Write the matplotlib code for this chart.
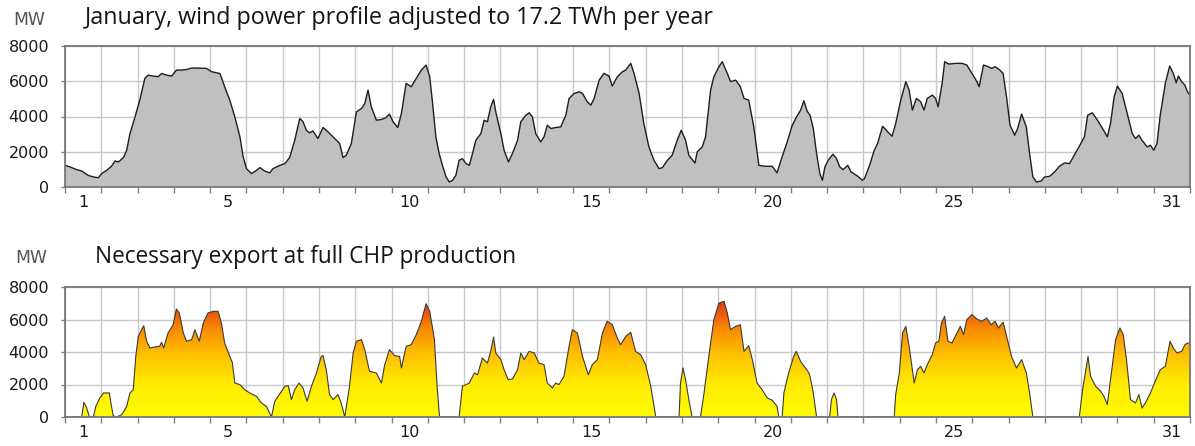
import numpy as np
import matplotlib
matplotlib.use("Agg")
import matplotlib.pyplot as plt
from matplotlib.colors import LinearSegmentedColormap

# ---------------- data ----------------
title_top = "January, wind power profile adjusted to 17.2 TWh per year"
title_bottom = "Necessary export at full CHP production"
unit_label = "MW"
label_days = [1, 5, 10, 15, 20, 25, 31]
y_ticks = [0, 2000, 4000, 6000, 8000]

wind_day = [0.00, 0.14, 0.32, 0.46, 0.64, 0.78, 0.92, 1.01, 1.15, 1.28, 1.38, 1.47, 1.61, 1.70, 1.79, 1.93,
            2.06, 2.20, 2.29, 2.43, 2.57, 2.66, 2.80, 2.94, 3.07, 3.21, 3.35, 3.49, 3.62, 3.90, 4.04, 4.27,
            4.40, 4.54, 4.68, 4.82, 4.91, 5.00, 5.14, 5.28, 5.37, 5.50, 5.64, 5.73, 5.92, 6.06, 6.19, 6.33,
            6.47, 6.56, 6.65, 6.74, 6.83, 6.97, 7.11, 7.20, 7.34, 7.48, 7.57, 7.66, 7.75, 7.89, 8.03, 8.17,
            8.26, 8.35, 8.44, 8.58, 8.72, 8.85, 8.94, 9.04, 9.17, 9.27, 9.40, 9.54, 9.68, 9.82, 9.95, 10.05,
            10.13, 10.22, 10.31, 10.40, 10.50, 10.59, 10.68, 10.77, 10.86, 10.95, 11.05, 11.14, 11.23, 11.32,
            11.46, 11.55, 11.64, 11.73, 11.81, 11.87, 12.01, 12.10, 12.22, 12.33, 12.47, 12.56, 12.70, 12.79,
            12.88, 12.97, 13.11, 13.20, 13.29, 13.39, 13.52, 13.66, 13.80, 13.89, 14.03, 14.17, 14.26, 14.39,
            14.49, 14.58, 14.72, 14.85, 14.99, 15.08, 15.22, 15.36, 15.45, 15.59, 15.68, 15.82, 15.95, 16.09,
            16.23, 16.37, 16.46, 16.60, 16.73, 16.87, 16.98, 17.10, 17.19, 17.36, 17.42, 17.56, 17.65, 17.79,
            17.88, 18.02, 18.11, 18.25, 18.34, 18.48, 18.61, 18.71, 18.84, 18.98, 19.12, 19.30, 19.49, 19.62,
            19.76, 19.90, 20.04, 20.17, 20.27, 20.36, 20.45, 20.53, 20.62, 20.71, 20.80, 20.87, 20.94, 21.03,
            21.16, 21.26, 21.35, 21.44, 21.57, 21.66, 21.76, 21.85, 21.97, 22.03, 22.17, 22.30, 22.39, 22.53,
            22.67, 22.79, 22.89, 23.03, 23.17, 23.26, 23.35, 23.46, 23.58, 23.67, 23.76, 23.90, 23.99, 24.06,
            24.17, 24.24, 24.35, 24.53, 24.72, 24.85, 24.99, 25.13, 25.19, 25.31, 25.44, 25.54, 25.63, 25.76,
            25.85, 25.95, 26.04, 26.17, 26.25, 26.36, 26.49, 26.58, 26.67, 26.77, 26.90, 26.99, 27.13, 27.27,
            27.40, 27.54, 27.68, 27.81, 27.95, 28.09, 28.18, 28.31, 28.45, 28.59, 28.72, 28.81, 28.91, 29.00,
            29.13, 29.27, 29.41, 29.50, 29.59, 29.68, 29.82, 29.91, 30.00, 30.09, 30.18, 30.32, 30.44, 30.54,
            30.62, 30.68, 30.77, 30.86, 30.93, 31.00]
wind_mw = [1230, 1140, 985, 910, 660, 570, 530, 760, 950, 1175, 1480, 1420, 1670, 2085, 3030, 3980,
           4930, 6160, 6350, 6290, 6260, 6440, 6350, 6290, 6635, 6635, 6670, 6750, 6750, 6730, 6540, 6440,
           5690, 4930, 3980, 2845, 1710, 1040, 760, 950, 1100, 910, 800, 1040, 1230, 1330, 1670, 2650,
           3890, 3700, 3220, 3070, 3185, 2750, 3375, 3220, 2940, 2650, 2465, 1670, 1800, 2465, 4265, 4455,
           4740, 5500, 4550, 3790, 3830, 3940, 4135, 3700, 3375, 4170, 5880, 5690, 6160, 6635, 6920, 6255,
           4740, 2845, 1900, 1230, 570, 285, 380, 660, 1515, 1610, 1330, 1230, 1900, 2650,
           3030, 3790, 3700, 4550, 4970, 4265, 3030, 2085, 1420, 1900, 2650, 3700, 4075, 4210,
           3980, 3030, 2560, 2845, 3505, 3320, 3375, 3410, 4075, 5025, 5310, 5400, 5310, 4835,
           4645, 5025, 6065, 6445, 6295, 5725, 6255, 6540, 6635, 7015, 6445, 5310, 3600, 2275,
           1515, 1040, 1100, 1515, 1800, 2650, 3220, 2650, 1800, 1365, 1990, 2275, 2845, 5500,
           6255, 6825, 7110, 6445, 5975, 6065, 5690, 5025, 4930, 3410, 1230, 1175, 1175, 800,
           1710, 2560, 3505, 4020, 4360, 4890, 4300, 4075, 3320, 1900, 760, 380, 1140, 1515,
           1860, 1610, 1140, 985, 1230, 855, 720, 605, 380, 475, 1230, 2085, 2465, 3450,
           3130, 2880, 3600, 4930, 5975, 5500, 4360, 5025, 4835, 4360, 5025, 5215, 5025, 4550,
           5880, 7110, 6975, 7015, 7015, 6920, 6445, 5975, 5690, 6920, 6825, 6730, 6825, 6635,
           6445, 5025, 3505, 2940, 3320, 4135, 3410, 1900, 570, 285, 340, 570, 605, 855,
           1175, 1365, 1330, 1800, 2315, 2845, 4075, 4210, 3790, 3320, 2845, 3600, 5120, 5725,
           5310, 4170, 3030, 2750, 2940, 2650, 2275, 2370, 2085, 2465, 4075, 5880, 6865, 6445,
           5915, 6295, 5975, 5785, 5405, 5200]

export_day = [0.00, 0.46, 0.52, 0.60, 0.67, 0.78, 0.85, 0.96, 1.06, 1.22, 1.28, 1.33, 1.42, 1.56, 1.65, 1.70,
              1.79, 1.88, 1.95, 2.02, 2.11, 2.17, 2.25, 2.34, 2.48, 2.61, 2.66, 2.72, 2.84, 2.98, 3.07, 3.15,
              3.26, 3.35, 3.49, 3.58, 3.70, 3.81, 3.94, 4.08, 4.22, 4.31, 4.40, 4.54, 4.61, 4.68, 4.82, 4.95,
              5.09, 5.28, 5.41, 5.55, 5.69, 5.78, 5.92, 6.06, 6.15, 6.24, 6.33, 6.45, 6.56, 6.67, 6.79, 6.93,
              7.06, 7.11, 7.20, 7.29, 7.39, 7.52, 7.61, 7.71, 7.84, 7.94, 8.03, 8.17, 8.26, 8.39, 8.58, 8.72,
              8.81, 8.94, 9.08, 9.22, 9.27, 9.40, 9.54, 9.68, 9.82, 9.95, 10.05, 10.18, 10.25, 10.32, 10.86,
              10.95, 11.14, 11.28, 11.37, 11.50, 11.64, 11.73, 11.81, 11.87, 12.01, 12.10, 12.21, 12.33, 12.47,
              12.56, 12.65, 12.79, 12.93, 13.06, 13.20, 13.29, 13.43, 13.52, 13.61, 13.75, 13.89, 13.98, 14.12,
              14.26, 14.42, 14.53, 14.67, 14.81, 14.94, 15.08, 15.22, 15.31, 15.45, 15.59, 15.72, 15.86, 16.00,
              16.14, 16.28, 16.92, 16.96, 17.03, 17.10, 17.19, 17.28, 17.51, 17.61, 17.74, 17.88, 18.02, 18.16,
              18.25, 18.34, 18.48, 18.61, 18.71, 18.84, 18.94, 19.07, 19.21, 19.35, 19.49, 19.62, 19.67, 19.76,
              19.81, 19.94, 20.08, 20.15, 20.27, 20.40, 20.50, 20.53, 20.62, 20.71, 21.07, 21.12, 21.19, 21.26,
              21.30, 22.85, 22.89, 22.99, 23.08, 23.17, 23.26, 23.40, 23.49, 23.58, 23.67, 23.76, 23.90, 23.99,
              24.08, 24.15, 24.24, 24.33, 24.44, 24.58, 24.67, 24.76, 24.85, 24.99, 25.13, 25.26, 25.40, 25.52,
              25.63, 25.72, 25.85, 25.97, 26.08, 26.22, 26.36, 26.49, 26.58, 26.67, 27.95, 28.04, 28.19, 28.26,
              28.40, 28.54, 28.63, 28.72, 28.81, 28.95, 29.07, 29.16, 29.25, 29.36, 29.50, 29.59, 29.68, 29.77,
              29.91, 30.04, 30.18, 30.32, 30.45, 30.54, 30.64, 30.77, 30.86, 30.93, 31.00]
export_mw = [0, 0, 900, 550, 0, 0, 660, 1170, 1480, 1480, 660, 80, 0, 140, 450, 660,
             1480, 1680, 3730, 4960, 5370, 5620, 4660, 4250, 4310, 4350, 4600, 4250, 5170, 5680, 6650, 6400,
             5170, 4660, 4760, 5370, 4660, 5785, 6400, 6500, 6500, 5785, 4550, 3730, 3365, 2090, 1990, 1680,
             1480, 1270, 860, 660, 0, 960, 1435, 1890, 1930, 1070, 1680, 2090, 1785, 960, 1890, 2710,
             3730, 3775, 2910, 1375, 1070, 1375, 860, 0, 1890, 3940, 4660, 4760, 4145, 2810, 2710, 2090,
             3220, 4145, 3775, 3730, 3015, 4350, 4450, 5070, 5890, 6975, 6500, 4760, 2000, 0, 0,
             1890, 2090, 2710, 2600, 3630, 3320, 4040, 4920, 3940, 3530, 2910, 2300, 2340, 2910,
             3940, 3530, 4040, 3940, 3320, 3220, 2090, 1785, 2090, 1990, 2500, 4350, 5370, 5170,
             3730, 2600, 3220, 3530, 5170, 5890, 5680, 4860, 4450, 4960, 5210, 4040, 3840, 3220,
             1890, 0, 0, 2090, 3015, 2300, 1070, 0, 0, 1480, 3730, 5990, 7015, 7120,
             6400, 5370, 5580, 5680, 4040, 4390, 3530, 2090, 1680, 1170, 1025, 660, 0, 0,
             1480, 2710, 3730, 4040, 3425, 3015, 2710, 2500, 1480, 0, 0, 1070, 1480, 1070,
             0, 0, 1375, 2710, 5170, 5580, 4350, 2090, 2910, 3120, 2710, 3220, 3840, 4550,
             4660, 5785, 6200, 4660, 4550, 5170, 5580, 5070, 5990, 6300, 6030, 5890, 6090, 5680,
             5890, 5480, 5830, 4760, 3730, 3015, 3530, 2710, 1480, 0, 0, 1680, 3730, 2500,
             1890, 1580, 1270, 760, 2300, 4760, 5480, 5070, 3530, 1070, 860, 1375, 550, 860,
             1480, 2190, 2910, 3120, 4660, 4250, 3940, 4040, 4450, 4550, 4550]

# ---------------- figure ----------------
W, H, DPI = 1195, 446, 100
fig = plt.figure(figsize=(W / DPI, H / DPI), dpi=DPI)
fig.patch.set_facecolor("white")


def px_axes(left, top, right, bottom):
    return fig.add_axes([left / W, 1 - bottom / H, (right - left) / W, (bottom - top) / H])


ax1 = px_axes(65, 46, 1190, 187)
ax2 = px_axes(65, 287, 1190, 417)

TICK_FS = 11.5
for ax in (ax1, ax2):
    ax.set_xlim(0, 31)
    ax.set_ylim(0, 8000)
    ax.set_xticks(np.arange(0, 32))
    ax.set_xticklabels([])
    ax.set_xticks([d - 0.5 for d in label_days], minor=True)
    ax.set_xticklabels([str(d) for d in label_days], minor=True)
    ax.tick_params(axis="x", which="major", length=4, width=1, color="#808080")
    ax.tick_params(axis="x", which="minor", length=0, pad=6, labelsize=TICK_FS, labelcolor="#1a1a1a")
    ax.set_yticks(y_ticks)
    ax.set_yticklabels([str(v) for v in y_ticks])
    ax.tick_params(axis="y", length=3, width=1, color="#808080", pad=8.5,
                   labelsize=TICK_FS, labelcolor="#1a1a1a")
    ax.grid(True, which="major", color="#c8c8c8", lw=1)
    ax.set_axisbelow(True)
    for s in ax.spines.values():
        s.set_color("#777777")
        s.set_linewidth(1.3)
        s.set_zorder(5)

# top: grey area
ax1.fill_between(wind_day, wind_mw, 0, facecolor="#c0c0c0", edgecolor="none", zorder=2)
ax1.plot(wind_day, wind_mw, color="#1e1e1e", lw=1.0, zorder=3)

# bottom: gradient area
cmap = LinearSegmentedColormap.from_list(
    "heat",
    [(0.0, "#fffb00"), (0.25, "#ffec00"), (0.5, "#ffbc00"),
     (0.68, "#f88a00"), (0.82, "#ea5210"), (1.0, "#d01010")])
poly = ax2.fill_between(export_day, export_mw, 0, facecolor="none", edgecolor="none", zorder=2)
grad = np.linspace(0, 1, 256).reshape(-1, 1)
im = ax2.imshow(grad, extent=[0, 31, 0, 8000], origin="lower", aspect="auto",
                cmap=cmap, vmin=0, vmax=1, zorder=2, interpolation="bilinear")
im.set_clip_path(poly.get_paths()[0], transform=ax2.transData)
ax2.plot(export_day, export_mw, color="#3a3a3a", lw=0.8, zorder=3)
ax2.set_xlim(0, 31)
ax2.set_ylim(0, 8000)

# ---------------- texts ----------------
renderer = fig.canvas.get_renderer()


def fit_text(x_px, y_px, s, target_w, **kw):
    t = fig.text(x_px / W, 1 - y_px / H, s, va="center", ha="left", fontsize=16, **kw)
    w = t.get_window_extent(renderer).width
    t.set_fontsize(16 * target_w / w)
    return t


fit_text(85, 18, title_top, 630, family="Open Sans", color="#151515")
fit_text(95, 257, title_bottom, 423, family="Open Sans", color="#151515")
fit_text(13, 20, unit_label, 32, family="DejaVu Sans", color="#555555")
fit_text(15, 258, unit_label, 32, family="DejaVu Sans", color="#555555")

fig.savefig("out.png", dpi=DPI, facecolor="white")
